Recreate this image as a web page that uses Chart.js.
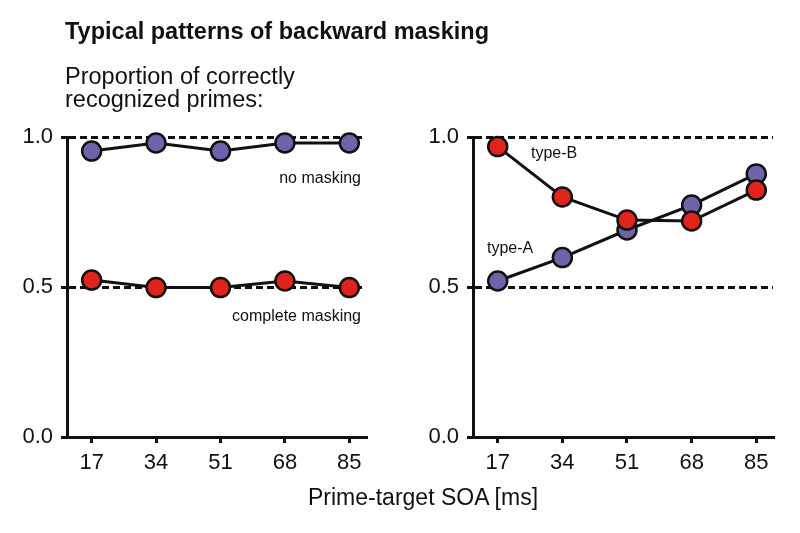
<!DOCTYPE html>
<html>
<head>
<meta charset="utf-8">
<script src="https://cdn.jsdelivr.net/npm/chart.js@4/dist/chart.umd.min.js"></script>
<style>
  body { margin: 0; background: #fff; }
  #wrap { position: relative; width: 800px; height: 533px; overflow: hidden; font-family: "Liberation Sans", Arial, sans-serif; color: #111; }
  canvas { position: absolute; left: 0; top: 0; }
  .t { position: absolute; white-space: nowrap; line-height: 1; }
</style>
</head>
<body>
<div id="wrap">
  <canvas id="left" width="800" height="533"></canvas>
  <canvas id="right" width="800" height="533"></canvas>
  <div class="t" style="left:65px; top:20px; font-size:23.5px; font-weight:bold;">Typical patterns of backward masking</div>
  <div class="t" style="left:65px; top:65px; font-size:23.5px;">Proportion of correctly</div>
  <div class="t" style="left:65px; top:88px; font-size:23.5px;">recognized primes:</div>
  <div class="t" style="left:308px; top:486px; font-size:23px;">Prime-target SOA [ms]</div>
  <div class="t" style="right:439px; top:170px; font-size:16px;">no masking</div>
  <div class="t" style="right:439px; top:308px; font-size:16px;">complete masking</div>
  <div class="t" style="left:531px; top:145px; font-size:16px;">type-B</div>
  <div class="t" style="left:487px; top:240px; font-size:16px;">type-A</div>
</div>
<script>
// SOA in ms (x axis)
var soa = [17, 34, 51, 68, 85];
var yTicks = [0, 0.5, 1.0];

// left panel
var noMasking = [0.953, 0.98, 0.953, 0.98, 0.98];
var completeMasking = [0.523, 0.498, 0.498, 0.52, 0.498];

// right panel
var typeB = [0.968, 0.80, 0.723, 0.72, 0.823];
var typeA = [0.52, 0.598, 0.69, 0.773, 0.877];

var purple = '#6e64ab';
var red = '#e0231b';
var ink = '#111';
var fontFam = '"Liberation Sans", Arial, sans-serif';

function pts(vals) {
  return vals.map(function(v, i){ return {x: soa[i], y: v}; });
}

function series(vals, color) {
  return {
    data: pts(vals),
    borderColor: ink,
    borderWidth: 3,
    backgroundColor: color,
    pointBackgroundColor: color,
    pointBorderColor: ink,
    pointBorderWidth: 2.5,
    pointRadius: 9.5,
    clip: false,
    tension: 0
  };
}

function opts(padL, yWidth, padR) {
  return {
    responsive: false,
    animation: false,
    events: [],
    layout: { padding: { left: padL, right: padR, top: 137, bottom: 56 } },
    plugins: { legend: { display: false }, tooltip: { enabled: false } },
    scales: {
      x: {
        type: 'linear', min: 10.5, max: 89.4,
        afterBuildTicks: function(s){ s.ticks = soa.map(function(v){ return {value: v}; }); },
        afterFit: function(s){ s.height = 40; },
        grid: { drawOnChartArea: false, tickLength: 6, lineWidth: 3, color: ink },
        border: { color: ink, width: 3 },
        ticks: { color: ink, padding: 7, maxRotation: 0, autoSkip: false,
                 font: { family: fontFam, size: 22 },
                 callback: function(v){ return String(v); } }
      },
      y: {
        min: 0, max: 1,
        afterBuildTicks: function(s){ s.ticks = yTicks.map(function(v){ return {value: v}; }); },
        afterFit: function(s){ s.width = yWidth; },
        grid: {
          color: function(c){ return c.tick && c.tick.value > 0 ? ink : 'rgba(0,0,0,0)'; },
          tickColor: ink, lineWidth: 3, tickWidth: 3, tickLength: 6
        },
        border: { color: ink, width: 3, dash: [7, 4] },
        ticks: { color: ink, padding: 8, font: { family: fontFam, size: 22 },
                 callback: function(v){ return Number(v).toFixed(1); } }
      }
    }
  };
}

new Chart(document.getElementById('left'), {
  type: 'line',
  data: { datasets: [ series(noMasking, purple), series(completeMasking, red) ] },
  options: opts(0, 67, 434)
});

// red first so it sits on top of the purple one
new Chart(document.getElementById('right'), {
  type: 'line',
  data: { datasets: [ series(typeB, red), series(typeA, purple) ] },
  options: opts(400, 73, 27)
});
</script>
</body>
</html>
